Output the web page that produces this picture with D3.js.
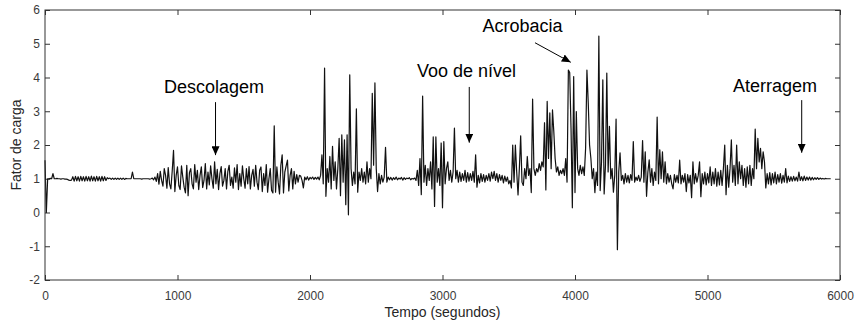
<!DOCTYPE html>
<html>
<head>
<meta charset="utf-8">
<script src="https://cdn.jsdelivr.net/npm/d3@7"></script>
<style>
body { margin: 0; background: #fff; }
svg { display: block; font-family: "Liberation Sans", Arial, Helvetica, sans-serif; }
.axis text { fill: #3a3a3a; font-size: 12px; font-family: "Liberation Sans", Arial, sans-serif; }
.axis line { stroke: #333; }
.label { fill: #262626; font-size: 14px; }
.note { fill: #000; font-size: 18px; }
</style>
</head>
<body>
<script>
// load factor, one sample every 10 s, split by flight phase
var STEP = 10;

var solo = [ // starts at 0 s
    1.55, 0.0, 1.0, 1.0, 1.01, 1.0, 1.15, 1.0, 1.0, 1.01,
    1.0, 1.0, 0.99, 1.0, 1.0, 0.99, 0.99, 0.98, 0.96, 0.95,
    0.96, 1.06, 0.93, 1.07, 0.94, 1.06, 0.93, 1.07, 0.94, 1.06,
    0.93, 1.07, 0.94, 1.06, 0.93, 1.08, 0.94, 1.06, 0.93, 1.07,
    0.94, 1.06, 0.93, 1.07, 0.94, 1.06, 0.95, 1.03, 1.0, 1.02,
    0.98, 1.02, 0.98, 1.02, 0.98, 1.02, 0.98, 1.02, 0.98, 1.02,
    0.98, 1.01, 1.0, 1.0, 1.0, 1.0, 1.2, 1.0, 1.0, 1.0,
    1.0, 1.0, 1.0, 0.99, 1.0, 1.0, 1.0, 1.0, 1.0, 0.99,
    1.0, 1.02, 0.97
];

var descolagem = [ // starts at 830 s
    1.05, 0.92, 1.15, 0.84, 1.22, 0.95, 0.78, 1.3, 1.1, 0.72,
    1.33, 0.85, 0.7, 1.22, 1.84, 0.62, 1.1, 1.35, 0.8, 0.68,
    1.38, 1.05, 0.75, 0.58, 1.4, 0.5, 1.18, 1.3, 0.85, 0.7,
    1.42, 0.9, 1.25, 0.68, 1.1, 1.35, 0.74, 0.95, 1.45, 0.7,
    1.2, 0.82, 1.38, 1.0, 0.72, 1.5, 0.85, 1.28, 0.68, 1.15,
    1.36, 0.78, 0.95, 1.3, 0.7, 1.22, 1.4, 0.8, 1.05, 0.72,
    1.32, 0.9, 1.42, 0.68, 1.15, 0.78, 1.38, 1.0, 0.72, 1.3,
    0.85, 1.36, 0.7, 1.1, 1.28, 0.78, 1.4, 0.9, 0.68, 1.25,
    1.35, 0.62, 1.15, 0.8, 1.42, 0.6, 1.0, 1.3, 0.65, 0.58,
    2.57, 0.6, 1.35, 0.9, 0.55, 1.4, 1.71, 0.58, 1.2, 1.38,
    1.55, 0.64, 1.1, 1.3, 0.7, 1.22, 0.85, 1.12, 0.9, 1.1,
    1.08, 0.95, 0.73, 1.05, 0.97, 1.06, 0.96, 1.04, 1.0, 1.05,
    0.98, 1.04, 0.99, 1.05, 0.97
];

var manobras = [ // starts at 2080 s
    1.1, 1.71, 0.85, 4.28, 0.48, 1.3, 0.9, 1.66, 0.7, 1.96,
    0.95, 1.5, 0.7, 1.3, 2.2, 0.5, 2.3, 0.9, 2.15, 0.23,
    2.3, -0.07, 4.08, 1.3, 0.8, 1.2, 0.85, 3.07, 0.6, 1.2,
    0.95, 1.3, 0.9, 1.2, 0.85, 1.5, 0.9, 1.3, 1.0, 3.53,
    1.4, 3.84, 1.3, 0.62, 1.15, 0.85, 1.1, 0.9
];

var vooNivel = [ // starts at 2560 s
    1.05, 1.93, 0.9, 1.05, 0.97, 1.04, 0.96, 1.03, 0.98, 1.05,
    0.97, 1.02, 0.99, 1.04, 0.96, 1.03, 0.98, 1.02, 1.0, 1.03,
    0.97, 1.01, 0.99, 1.02, 0.95, 1.25, 0.8, 1.6, 0.53, 3.45,
    0.9, 1.4, 0.8, 1.3, 0.95, 1.5, 0.7, 2.24, 0.18, 2.24,
    0.9, 1.3, 0.8, 2.06, 0.14, 2.1, 0.85, 1.3, 1.5, 0.95,
    1.25, 0.9, 1.2, 2.5, 1.0, 1.25, 0.9, 1.2, 0.92, 1.15,
    0.95, 1.25, 0.9, 1.18, 0.93, 1.15, 0.95, 1.22, 0.9, 1.71,
    0.75, 1.1, 0.88, 1.15, 0.92, 1.12, 0.9, 1.1, 0.95, 1.15,
    0.93, 1.2, 1.0, 1.22, 0.95, 1.15, 0.9, 1.12, 0.95, 1.1,
    0.88, 1.08, 0.92, 1.05, 0.85, 0.95, 0.73, 2.0, 0.9, 2.0
];

var acrobacia = [ // starts at 3560 s
    1.2, 0.52, 1.3, 2.27, 0.9, 0.8, 1.3, 1.0, 1.66, 1.1,
    1.3, 0.59, 3.36, 1.3, 1.1, 1.3, 1.2, 1.45, 1.25, 1.5,
    1.35, 2.66, 0.67, 3.29, 1.6, 2.95, 1.3, 3.04, 2.4, 1.6,
    1.2, 1.35, 1.1, 1.25, 1.15, 1.3, 1.1, 1.6, 0.9, 4.22,
    4.15, 2.5, 0.14, 4.03, 0.59, 2.99, 1.3, 1.1, 1.4, 1.15,
    1.35, 1.1, 1.9, 4.22, 3.25, 2.0, 1.6, 1.0, 1.3, 0.59,
    1.2, 0.8, 5.23, 0.65, 1.5, 3.93, 0.55, 1.4, 4.13, 1.2,
    2.55, 1.0, 1.3, 0.6, 1.1, 2.77, -1.1, 1.2, 1.77, 0.95,
    1.1, 0.85, 1.15, 0.9, 1.1, 0.88, 1.12, 0.95, 2.1, 0.9,
    1.05, 0.95, 1.1, 0.92, 1.05
];

var regresso = [ // starts at 4510 s
    2.13, 0.9, 1.8, 0.48, 1.2, 1.56, 0.9, 1.3, 0.8, 1.2,
    0.95, 2.83, 0.85, 1.86, 1.0, 1.8, 0.9, 1.5, 0.85, 1.15,
    0.9, 1.1, 0.85, 0.7, 1.12, 0.9, 1.1, 0.88, 1.55, 0.85,
    1.1, 0.9, 1.15, 0.62, 1.12, 0.88, 1.1, 0.44, 1.5, 0.85,
    1.15, 0.9, 1.1, 1.5, 0.47, 1.15, 0.85, 1.2, 0.82, 1.15,
    0.88, 1.35, 0.8, 1.2, 0.85, 1.3, 0.78, 1.2, 0.82, 1.25,
    0.8, 1.3, 2.0, 0.53, 1.4, 0.75, 1.3, 2.15, 0.9, 1.4,
    0.8, 2.0, 0.85, 1.5, 1.0, 1.4, 0.8, 1.3, 0.75, 1.35,
    0.85, 1.4, 0.8, 1.3, 1.0, 2.47, 1.3, 2.2, 1.5, 1.9,
    1.3, 1.8, 1.5, 0.73, 1.15
];

var aterragem = [ // starts at 5460 s
    0.85, 1.18, 0.82, 1.15, 0.88, 1.2, 0.85, 1.12, 0.9, 1.15,
    0.87, 1.1, 0.9, 1.3, 0.88, 1.08, 0.92, 1.06, 0.93, 1.07,
    0.94, 1.05, 0.93, 1.2, 0.95, 1.06, 0.94, 1.08, 0.95, 1.05,
    0.96, 1.05, 0.96, 1.04, 0.97, 1.03, 0.98, 1.03, 0.98, 1.02,
    0.99, 1.01, 0.99, 1.01, 1.0, 1.0, 1.0, 1.0
];

var phases = [solo, descolagem, manobras, vooNivel, acrobacia, regresso, aterragem];
var phaseStart = [0, 830, 2080, 2560, 3560, 4510, 5460];

var xTicks = [0, 1000, 2000, 3000, 4000, 5000, 6000];
var yTicks = [-2, -1, 0, 1, 2, 3, 4, 5, 6];

var notes = [
    {text: "Descolagem", t: 1275, v: 3.54, from: [1287, 3.27], to: [1287, 1.70]},
    {text: "Voo de nível", t: 3181, v: 4.01, from: [3202, 3.72], to: [3202, 2.07]},
    {text: "Acrobacia", t: 3604, v: 5.35, from: [3698, 5.03], to: [3968, 4.45]},
    {text: "Aterragem", t: 5509, v: 3.56, from: [5711, 3.33], to: [5711, 1.77]}
];

var data = [];
phases.forEach(function(vals, p) {
    vals.forEach(function(v, j) {
        data.push({t: phaseStart[p] + j * STEP, v: v});
    });
});

var margin = {top: 10, right: 16, bottom: 41, left: 45};
var width = 856 - margin.left - margin.right,
    height = 321 - margin.top - margin.bottom;

var root = d3.select("body")
    .append("svg")
    .attr("width", width + margin.left + margin.right)
    .attr("height", height + margin.top + margin.bottom);

root.append("defs").append("marker")
    .attr("id", "head")
    .attr("viewBox", "0 0 9 8")
    .attr("refX", 9)
    .attr("refY", 4)
    .attr("markerWidth", 9)
    .attr("markerHeight", 8)
    .attr("markerUnits", "userSpaceOnUse")
    .attr("orient", "auto")
    .append("path")
    .attr("d", "M0,0 L9,4 L0,8 Z")
    .attr("fill", "#000");

var svg = root.append("g")
    .attr("transform", "translate(" + margin.left + "," + margin.top + ")");

var x = d3.scaleLinear().domain([0, 6000]).range([0, width]);
var y = d3.scaleLinear().domain([-2, 6]).range([height, 0]);

var plain = function(d) { return String(d); }; // keep ascii hyphen for negatives

// axes, ticks pointing inward
svg.append("g")
    .attr("class", "axis")
    .attr("transform", "translate(0," + height + ")")
    .call(d3.axisBottom(x).tickValues(xTicks).tickFormat(plain)
        .tickSizeInner(-5).tickSizeOuter(0).tickPadding(11));

svg.append("g")
    .attr("class", "axis")
    .call(d3.axisLeft(y).tickValues(yTicks).tickFormat(plain)
        .tickSizeInner(-5).tickSizeOuter(0).tickPadding(5));

svg.append("g")
    .attr("class", "axis")
    .call(d3.axisTop(x).tickValues(xTicks).tickFormat("")
        .tickSizeInner(-5).tickSizeOuter(0));

svg.append("g")
    .attr("class", "axis")
    .attr("transform", "translate(" + width + ",0)")
    .call(d3.axisRight(y).tickValues(yTicks).tickFormat("")
        .tickSizeInner(-5).tickSizeOuter(0));

svg.selectAll(".axis").attr("font-size", null).attr("font-family", null);
svg.selectAll(".axis .domain").remove();

// the signal
var line = d3.line()
    .x(function(d) { return x(d.t); })
    .y(function(d) { return y(d.v); });

svg.append("path")
    .datum(data)
    .attr("d", line)
    .attr("fill", "none")
    .attr("stroke", "#111")
    .attr("stroke-width", 1.2)
    .attr("stroke-linejoin", "round");

// frame
svg.append("rect")
    .attr("x", 0)
    .attr("y", 0)
    .attr("width", width)
    .attr("height", height)
    .attr("fill", "none")
    .attr("stroke", "#333")
    .attr("stroke-width", 1);

// axis titles
svg.append("text")
    .attr("class", "label")
    .attr("x", width / 2)
    .attr("y", height + 37)
    .style("text-anchor", "middle")
    .text("Tempo (segundos)");

svg.append("text")
    .attr("class", "label")
    .attr("transform", "rotate(-90)")
    .attr("x", 0 - (height / 2))
    .attr("y", 0 - margin.left + 21)
    .style("text-anchor", "middle")
    .text("Fator de carga");

// annotations
var note = svg.selectAll(".notes")
    .data(notes)
    .enter().append("g");

note.append("text")
    .attr("class", "note")
    .attr("x", function(d) { return x(d.t); })
    .attr("y", function(d) { return y(d.v); })
    .style("text-anchor", "middle")
    .text(function(d) { return d.text; });

note.append("line")
    .attr("x1", function(d) { return x(d.from[0]); })
    .attr("y1", function(d) { return y(d.from[1]); })
    .attr("x2", function(d) { return x(d.to[0]); })
    .attr("y2", function(d) { return y(d.to[1]); })
    .attr("stroke", "#000")
    .attr("stroke-width", 1)
    .attr("marker-end", "url(#head)");
</script>
</body>
</html>
